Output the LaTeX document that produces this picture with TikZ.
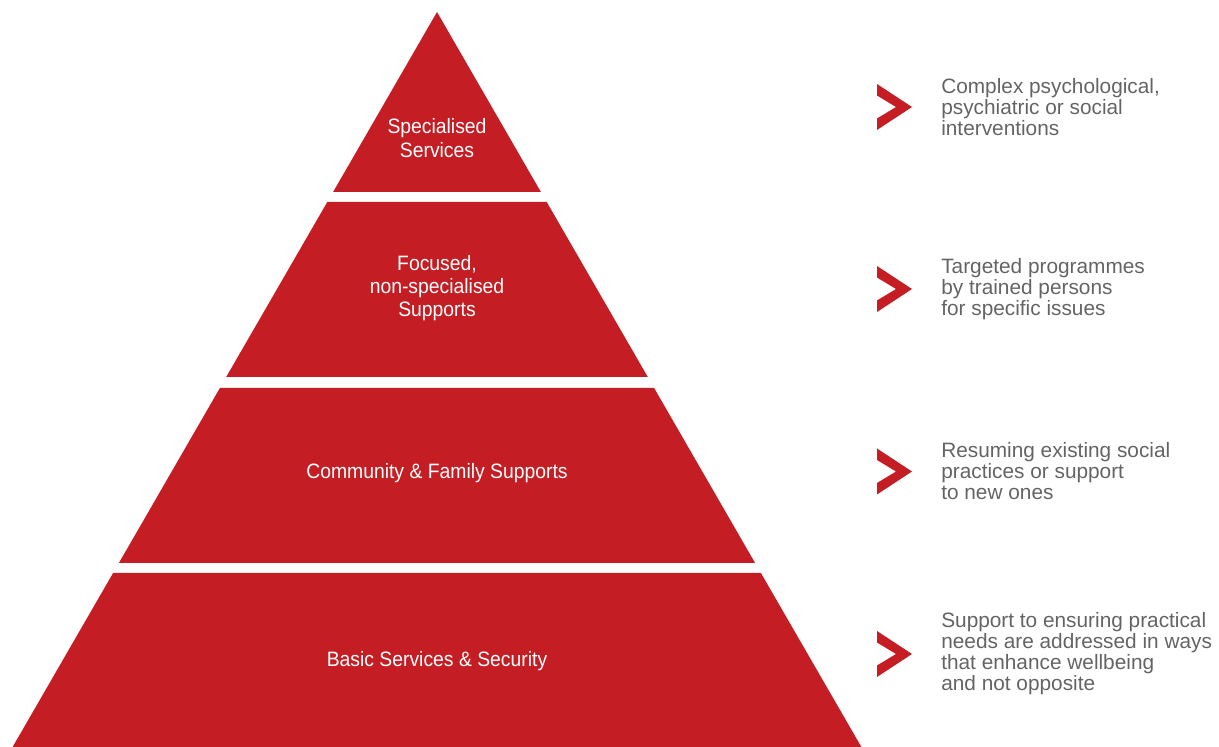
\documentclass[tikz,border=0pt]{standalone}
\usepackage{fontspec}
\setmainfont{Liberation Sans}
\newfontfamily\tierfont[FakeStretch=0.93]{Liberation Sans}
\usetikzlibrary{positioning}
\usetikzlibrary{calc}
\definecolor{pyrred}{RGB}{196,29,35}
\definecolor{descgray}{RGB}{100,100,100}

\begin{document}
\begin{tikzpicture}
  [
    x=0.025cm, y=-0.025cm,
    align=center
  ]
    \tikzset{
        tierstyle/.style = {fill=pyrred},
        labelstyle/.style = {text=white, inner sep=0pt,
                             font=\tierfont\fontsize{14.8}{16.6}\selectfont},
        chevstyle/.style = {fill=pyrred},
        descstyle/.style = {text=descgray, inner sep=0pt, align=left,
                            font=\fontsize{14.8}{14.9}\selectfont},
    }
    \useasboundingbox (0,0) rectangle (1219,747);

    % pyramid tiers
    \fill[tierstyle] (437,12) -- (540.9,192) -- (333.1,192) -- cycle;
    \fill[tierstyle] (327.3,202) -- (546.7,202) -- (647.8,377) -- (226.2,377) -- cycle;
    \fill[tierstyle] (219.9,388) -- (654.1,388) -- (755.1,563) -- (118.9,563) -- cycle;
    \fill[tierstyle] (113.1,573) -- (760.9,573) -- (861.4,747) -- (12.6,747) -- cycle;

    \node (spec) [labelstyle] at (437,138) {Specialised\\Services};
    \node (focus) [labelstyle] at (437,288) {Focused,\\non-specialised\\Supports};
    \node (comm) [labelstyle] at (437,473) {Community \& Family Supports};
    \node (basic) [labelstyle] at (437,661) {Basic Services \& Security};

    % chevrons
    \coordinate (chev1) at (877,107);
    \coordinate (chev2) at (877,289);
    \coordinate (chev3) at (877,471.5);
    \coordinate (chev4) at (877,654);
    \fill[chevstyle] (chev1) ++(0,-23) -- ++(35,23) -- ++(-35,23) -- ++(0,-11.5) -- ++(19,-11.5) -- ++(-19,-11.5) -- cycle;
    \fill[chevstyle] (chev2) ++(0,-23) -- ++(35,23) -- ++(-35,23) -- ++(0,-11.5) -- ++(19,-11.5) -- ++(-19,-11.5) -- cycle;
    \fill[chevstyle] (chev3) ++(0,-23) -- ++(35,23) -- ++(-35,23) -- ++(0,-11.5) -- ++(19,-11.5) -- ++(-19,-11.5) -- cycle;
    \fill[chevstyle] (chev4) ++(0,-23) -- ++(35,23) -- ++(-35,23) -- ++(0,-11.5) -- ++(19,-11.5) -- ++(-19,-11.5) -- cycle;

    \node (desc1) [descstyle, right=1.6cm of chev1, anchor=west] {Complex psychological,\\psychiatric or social\\interventions};
    \node (desc2) [descstyle, right=1.6cm of chev2, anchor=west] {Targeted programmes\\by trained persons\\for specific issues};
    \node (desc3) [descstyle, right=1.6cm of chev3, anchor=west] {Resuming existing social\\practices or support\\to new ones};
    \node (desc4) [descstyle, right=1.6cm of chev4, anchor=west] {Support to ensuring practical\\needs are addressed in ways\\that enhance wellbeing\\and not opposite};
\end{tikzpicture}
\end{document}
